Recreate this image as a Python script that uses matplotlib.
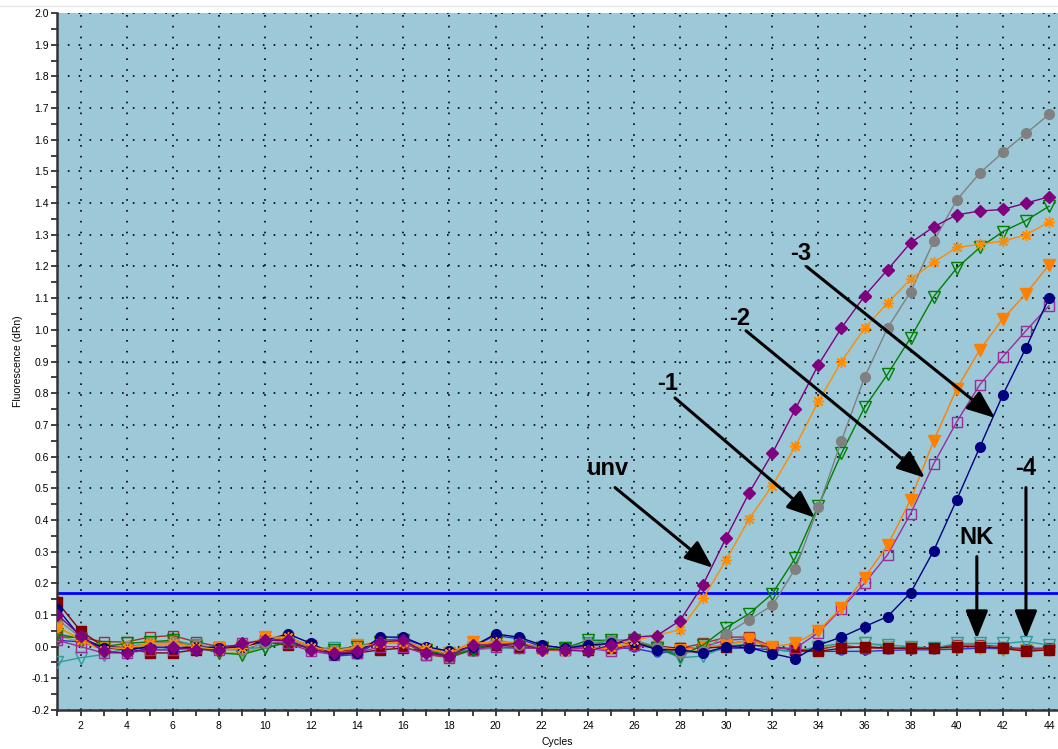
import matplotlib
matplotlib.use("Agg")
import matplotlib.pyplot as plt
from matplotlib.lines import Line2D
import numpy as np

cycles = list(range(1, 45))

# fluorescence (dRn) per cycle, one list per well
unv_a = [0.10, 0.035, -0.015, -0.02, -0.005, 0.0, -0.01, -0.01, 0.01, 0.02, 0.02, -0.01, -0.02, -0.015,
         0.015, 0.02, -0.02, -0.03, 0.005, 0.005, 0.01, -0.01, -0.01, -0.015, 0.005, 0.03, 0.035, 0.082,
         0.196, 0.344, 0.486, 0.61, 0.75, 0.89, 1.006, 1.107, 1.19, 1.275, 1.325, 1.363, 1.375, 1.38,
         1.40, 1.42]
unv_b = [0.065, 0.02, -0.01, -0.005, 0.01, 0.01, 0.0, -0.01, -0.005, 0.03, 0.03, 0.0, -0.015, 0.0,
         0.01, 0.015, -0.005, -0.02, 0.01, 0.015, 0.01, -0.01, -0.015, -0.01, 0.0, 0.02, 0.035, 0.054,
         0.152, 0.274, 0.404, 0.508, 0.632, 0.774, 0.90, 1.005, 1.085, 1.16, 1.213, 1.26, 1.27, 1.28,
         1.30, 1.34]
d1_a = [0.085, 0.03, -0.01, 0.0, 0.01, 0.015, 0.005, -0.01, -0.01, 0.01, 0.02, 0.0, -0.01, -0.005,
        0.02, 0.02, -0.01, -0.02, 0.0, 0.01, 0.005, 0.0, -0.005, 0.01, 0.02, 0.02, 0.0, -0.02,
        -0.015, 0.04, 0.085, 0.13, 0.246, 0.44, 0.65, 0.85, 1.006, 1.12, 1.28, 1.41, 1.495, 1.56,
        1.62, 1.68]
d1_b = [0.04, 0.025, 0.0, 0.01, 0.015, 0.02, 0.0, -0.02, -0.025, -0.005, 0.015, -0.005, -0.01, 0.0,
        0.015, 0.02, -0.01, -0.03, -0.01, 0.015, 0.01, -0.005, -0.005, 0.02, 0.02, 0.02, -0.005, -0.03,
        0.005, 0.06, 0.104, 0.167, 0.28, 0.445, 0.61, 0.755, 0.86, 0.975, 1.105, 1.195, 1.26, 1.31,
        1.345, 1.39]
d2_a = [0.06, 0.025, -0.005, 0.0, 0.005, 0.005, 0.0, -0.005, 0.0, 0.03, 0.025, -0.005, -0.02, 0.005,
        0.015, 0.015, -0.01, -0.02, 0.015, 0.01, 0.015, -0.005, -0.01, -0.01, -0.005, 0.01, 0.0, -0.01,
        0.0, 0.005, 0.02, 0.0, 0.01, 0.05, 0.123, 0.218, 0.32, 0.464, 0.65, 0.814, 0.937, 1.035,
        1.114, 1.205]
d2_b = [0.02, 0.0, -0.02, -0.02, -0.01, -0.01, -0.005, -0.01, 0.01, 0.015, 0.01, -0.015, -0.025, -0.02,
        0.0, 0.0, -0.025, -0.03, -0.01, 0.0, -0.005, -0.005, -0.01, -0.005, -0.015, 0.005, -0.005, -0.01,
        0.0, 0.02, 0.025, -0.005, -0.005, 0.044, 0.12, 0.20, 0.29, 0.42, 0.577, 0.71, 0.827, 0.915,
        0.997, 1.076]
d3_a = [0.12, 0.03, -0.005, -0.01, 0.0, -0.005, 0.0, -0.005, 0.0, 0.02, 0.04, 0.01, -0.025, -0.02,
        0.03, 0.03, 0.0, -0.015, 0.0, 0.04, 0.03, 0.005, -0.005, 0.005, 0.01, 0.015, -0.01, -0.01,
        -0.02, 0.0, -0.003, -0.022, -0.038, 0.005, 0.03, 0.063, 0.095, 0.17, 0.303, 0.464, 0.63, 0.795,
        0.943, 1.10]
d3_b = [0.02, 0.015, 0.0, 0.0, -0.01, -0.01, 0.0, 0.0, 0.005, 0.015, 0.03, 0.0, -0.03, -0.025,
        0.02, 0.025, 0.0, -0.02, 0.0, 0.035, 0.025, 0.0, -0.01, -0.005, -0.005, -0.005, -0.02, -0.015,
        -0.02, -0.005, -0.005, -0.01, -0.015, -0.015, -0.015, -0.015, -0.012, -0.01, -0.01, -0.008, -0.005,
        -0.005, -0.005, -0.005]
nk_a = [0.14, 0.05, 0.0, -0.005, -0.02, -0.02, -0.01, -0.005, 0.0, 0.015, 0.005, 0.0, -0.02, -0.02,
        -0.01, -0.005, -0.015, -0.03, -0.01, 0.005, 0.0, -0.005, -0.01, -0.01, -0.005, 0.005, 0.0, -0.005,
        -0.005, 0.0, 0.005, 0.0, -0.01, -0.015, -0.005, 0.0, -0.005, -0.005, -0.005, 0.0, 0.0, -0.005,
        -0.015, -0.01]
nk_b = [0.03, 0.03, 0.015, 0.015, 0.03, 0.035, 0.015, 0.0, 0.0, 0.02, 0.02, 0.005, -0.015, -0.01,
        0.015, 0.015, -0.025, -0.035, -0.01, 0.01, 0.01, -0.005, -0.005, 0.0, 0.01, 0.01, 0.0, -0.005,
        0.01, 0.03, 0.03, 0.0, -0.01, -0.01, 0.005, -0.005, -0.005, -0.005, -0.005, 0.005, 0.005, 0.0,
        -0.01, -0.005]
m4_a = [-0.05, -0.035, -0.025, -0.005, 0.01, 0.02, 0.005, -0.005, -0.01, 0.0, 0.01, -0.005, -0.005, -0.005,
        0.015, 0.015, -0.01, -0.02, -0.01, -0.005, -0.005, -0.005, -0.005, 0.01, 0.015, 0.01, -0.005, -0.035,
        -0.03, 0.0, 0.01, -0.01, -0.015, 0.0, 0.01, 0.01, 0.005, 0.0, -0.005, 0.01, 0.01, 0.01,
        0.016, 0.005]
m4_b = [0.035, 0.015, -0.01, -0.005, 0.005, 0.015, 0.0, -0.02, -0.02, 0.0, 0.01, -0.01, -0.015, -0.005,
        0.01, 0.01, -0.015, -0.025, 0.0, 0.02, 0.01, 0.0, -0.01, 0.0, 0.01, 0.01, -0.005, -0.02,
        -0.01, 0.01, 0.02, -0.005, -0.01, -0.005, 0.01, 0.01, 0.0, -0.005, -0.005, -0.005, -0.005, -0.01,
        -0.01, -0.01]

threshold = 0.17

wells = [
    (m4_b, "#A8A040", "v", "none", 8),
    (d3_b, "#3030D0", "o", "none", 5),
    (nk_b, "#A03030", "s", "none", 7),
    (m4_a, "#2E9C9C", "v", "none", 9),
    (nk_a, "#800000", "s", "#800000", 7),
    (d2_b, "#9C2C9C", "s", "none", 7),
    (d2_a, "#FF8000", "v", "#FF8000", 9),
    (d1_b, "#008000", "v", "none", 9),
    (d1_a, "#808080", "o", "#808080", 7),
    (d3_a, "#000080", "o", "#000080", 7),
    (unv_b, "#FF8C00", (8, 2, 0), "#FF8C00", 8),
    (unv_a, "#800080", "D", "#800080", 6),
]

plt.rcParams["font.family"] = "Liberation Sans"

fig = plt.figure(figsize=(10.58, 7.49), dpi=100)
ax = fig.add_axes([0.0543, 0.0521, 0.9457, 0.9305])
ax.set_facecolor("#9CC8D8")
fig.add_artist(Line2D([0, 1], [0.992, 0.992], color="#E6E6E6", lw=1))

ax.axhline(threshold, color="#0000FF", lw=2, zorder=2)

for vals, col, mk, fc, ms in wells:
    ax.plot(cycles, vals, color=col, lw=1, marker=mk, mfc=fc, mec=col,
            ms=ms, mew=1, zorder=3)

ax.set_xlim(1, 44.39)
ax.set_ylim(-0.2, 2.0)
ax.set_xticks(range(2, 45, 2))
ax.set_xticks(cycles, minor=True)
ax.set_yticks(np.round(np.arange(-0.2, 2.01, 0.1), 1))
ax.set_yticks(np.arange(-0.15, 2.0, 0.1), minor=True)
ax.yaxis.set_major_formatter(matplotlib.ticker.FormatStrFormatter("%.1f"))
ax.tick_params(which="both", direction="out", length=4, width=1.2, color="#222222",
               labelsize=7.5, pad=2)
ax.tick_params(axis="x", which="major", pad=4)

ax.grid(False, which="minor")
ax.grid(True, which="major", color="black", lw=1.2, linestyle=(0, (1, 5.5)))
ax.set_axisbelow(True)

for side in ("top", "right"):
    ax.spines[side].set_visible(False)
for side in ("left", "bottom"):
    ax.spines[side].set_color("#333333")
    ax.spines[side].set_linewidth(1.8)

ax.set_xlabel("Cycles", fontsize=7.5, labelpad=4)
ax.set_ylabel("Fluorescence (dRn)", fontsize=7.5, labelpad=6)

# dilution labels with pointers onto the curves
labels = [
    ("unv", (24.87, 0.562), (25.18, 0.502), (29.42, 0.249)),
    ("-1", (27.47, 0.83), (27.78, 0.785), (33.85, 0.407)),
    ("-2", (30.59, 1.035), (30.86, 0.997), (38.62, 0.533)),
    ("-3", (33.24, 1.24), (33.50, 1.199), (41.66, 0.722)),
    ("NK", (40.87, 0.344), (40.87, 0.284), (40.87, 0.025)),
    ("-4", (42.99, 0.562), (43.0, 0.502), (43.0, 0.025)),
]
for txt, pos, start, tip in labels:
    ax.text(pos[0], pos[1], txt, fontsize=17, fontweight="bold", ha="center",
            va="center", zorder=6)
    ax.annotate("", xy=tip, xytext=start,
                arrowprops=dict(arrowstyle="-|>,head_length=0.45,head_width=0.18",
                                mutation_scale=38, lw=2.2, color="black",
                                shrinkA=0, shrinkB=0),
                zorder=6)

fig.savefig("out.png", dpi=100)
